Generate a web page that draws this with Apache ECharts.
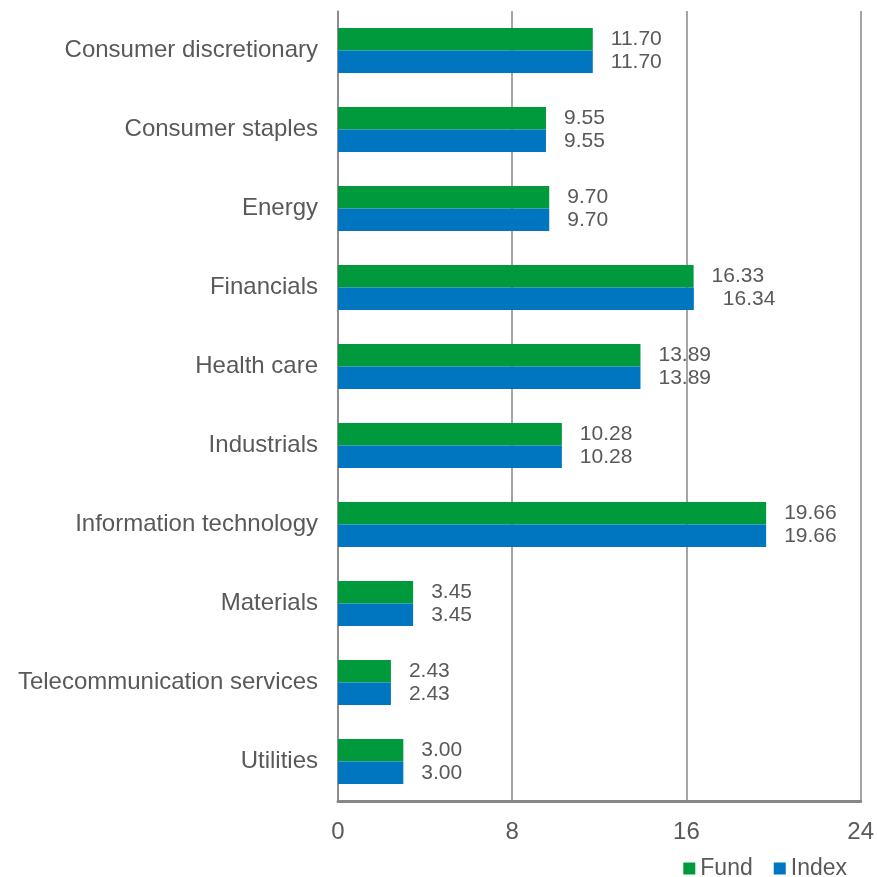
<!DOCTYPE html>
<html>
<head>
<meta charset="utf-8">
<script src="https://cdn.jsdelivr.net/npm/echarts@6/dist/echarts.min.js"></script>
<style>
  html, body { margin: 0; padding: 0; background: #fff; }
  #chart { width: 877px; height: 877px; }
</style>
</head>
<body>
<div id="chart"></div>
<script>
// Sector weights (%) for the fund and its benchmark index
const sectors = [
  'Consumer discretionary', 'Consumer staples', 'Energy', 'Financials',
  'Health care', 'Industrials', 'Information technology', 'Materials',
  'Telecommunication services', 'Utilities'
];
const fundWeights  = [11.70, 9.55, 9.70, 16.33, 13.89, 10.28, 19.66, 3.45, 2.43, 3.00];
const indexWeights = [11.70, 9.55, 9.70, 16.34, 13.89, 10.28, 19.66, 3.45, 2.43, 3.00];
const axisTicks = [0, 8, 16, 24];

const FONT = 'Liberation Sans, Arial, sans-serif';
const TEXT = '#595959';
const GREEN = '#009a3d';
const BLUE = '#0075c0';

function labelled(values, extraOffsets) {
  return values.map((v, i) => {
    const o = { value: v };
    if (extraOffsets && extraOffsets[i]) {
      o.label = { offset: [extraOffsets[i], 0] };
    }
    return o;
  });
}

const valueLabel = {
  show: true, position: 'right', distance: 18,
  fontFamily: FONT, fontSize: 21, color: TEXT,
  formatter: p => p.value.toFixed(2)
};

const chart = echarts.init(document.getElementById('chart'));
chart.setOption({
  animation: false,
  textStyle: { fontFamily: FONT },
  grid: { left: 338, right: 15, top: 11, bottom: 76, containLabel: false },
  legend: {
    data: ['Fund', 'Index'],
    right: 25, top: 852,
    icon: 'rect', itemWidth: 12, itemHeight: 12, itemGap: 21,
    textStyle: { fontFamily: FONT, fontSize: 23, color: TEXT }
  },
  xAxis: {
    type: 'value',
    min: axisTicks[0], max: axisTicks[axisTicks.length - 1], interval: 8,
    axisLine: { show: true, lineStyle: { color: '#878787', width: 3 } },
    axisTick: { show: false },
    axisLabel: { fontFamily: FONT, fontSize: 24, color: TEXT, margin: 19 },
    splitLine: { show: true, lineStyle: { color: '#878787', width: 1.5 } }
  },
  yAxis: {
    type: 'category',
    data: sectors,
    inverse: true,
    axisLine: { show: true, lineStyle: { color: '#878787', width: 1.5 } },
    axisTick: { show: false },
    axisLabel: { fontFamily: FONT, fontSize: 24, color: TEXT, margin: 20 }
  },
  series: [
    {
      name: 'Fund', type: 'bar',
      data: labelled(fundWeights),
      barWidth: 22.5, barGap: '0%',
      itemStyle: { color: GREEN },
      label: valueLabel
    },
    {
      name: 'Index', type: 'bar',
      data: labelled(indexWeights, [0, 0, 0, 11]),
      barWidth: 22.5,
      itemStyle: { color: BLUE },
      label: valueLabel
    }
  ]
});
</script>
</body>
</html>
